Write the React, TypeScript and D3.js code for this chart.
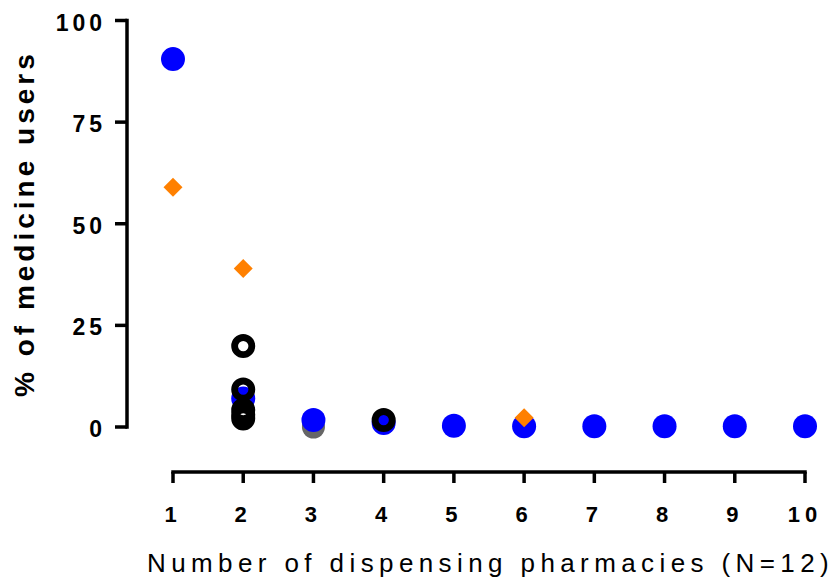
import React from "react";
import * as d3 from "d3";

const xTicks = [1, 2, 3, 4, 5, 6, 7, 8, 9, 10];
const yTicks = [0, 25, 50, 75, 100];

const greyX = [3];
const greyY = [0];

const blueX = [1, 2, 3, 4, 5, 6, 7, 8, 9, 10];
const blueY = [90.5, 7, 1.7, 1.0, 0.3, 0.2, 0.2, 0.2, 0.2, 0.2];

const ringX = [2, 2, 2, 2, 2, 4];
const ringY = [19.9, 9.2, 4.2, 3.0, 2.1, 1.7];

const diamondX = [1, 2, 6];
const diamondY = [59, 39, 2.3];

const yTitle = "% of medicine users";
const xTitle = "Number of dispensing pharmacies (N=12)";

const FONT = "Liberation Sans, Arial, sans-serif";

export default function App() {
  const W = 833, H = 581;
  const x = d3.scaleLinear().domain([1, 10]).range([173, 805]);
  const y = d3.scaleLinear().domain([0, 100]).range([427, 20.5]);
  const axisX = 127;
  const axisY = 472;
  const diamond = d3.symbol().type(d3.symbolSquare).size(180)();

  return (
    <svg width={W} height={H} style={{ position: "absolute", left: 0, top: 0 }}>
      <rect width={W} height={H} fill="#fff" />
      {/* Y axis */}
      <line x1={axisX} x2={axisX} y1={y(100) - 1.75} y2={y(0) + 1.75} stroke="#000" strokeWidth={3.5} />
      {yTicks.map((t) => (
        <g key={"yt" + t}>
          <line x1={axisX - 12} x2={axisX} y1={y(t)} y2={y(t)} stroke="#000" strokeWidth={3.5} />
          <text x={106} y={y(t) + 10} textAnchor="end" fontFamily={FONT}
            fontWeight="bold" fontSize={23} letterSpacing={4}>{t}</text>
        </g>
      ))}
      {/* X axis */}
      <line x1={x(1) - 1.75} x2={x(10) + 1.75} y1={axisY} y2={axisY} stroke="#000" strokeWidth={3.5} />
      {xTicks.map((t) => (
        <g key={"xt" + t}>
          <line x1={x(t)} x2={x(t)} y1={axisY} y2={axisY + 11} stroke="#000" strokeWidth={3.5} />
          <text x={x(t)} y={522} textAnchor="middle" fontFamily={FONT}
            fontWeight="bold" fontSize={22} letterSpacing={5}>{t}</text>
        </g>
      ))}
      {/* titles */}
      <text transform={`translate(34,397) rotate(-90)`} textAnchor="start"
        fontFamily={FONT} fontWeight="bold" fontSize={28} letterSpacing={4.0}>{yTitle}</text>
      <text x={147} y={572} textAnchor="start" fontFamily={FONT}
        fontSize={26} letterSpacing={5.4}>{xTitle}</text>
      {/* grey */}
      {greyX.map((v, i) => (
        <circle key={"g" + i} cx={x(v)} cy={y(greyY[i])} r={11.5} fill="#666" />
      ))}
      {/* blue */}
      {blueX.map((v, i) => (
        <circle key={"b" + i} cx={x(v)} cy={y(blueY[i])} r={12} fill="#0000ff" />
      ))}
      {/* rings */}
      {ringX.map((v, i) => (
        <circle key={"r" + i} cx={x(v)} cy={y(ringY[i])} r={8.6} fill="none" stroke="#000" strokeWidth={6.8} />
      ))}
      {/* diamonds */}
      {diamondX.map((v, i) => (
        <path key={"d" + i} d={diamond} transform={`translate(${x(v)},${y(diamondY[i])}) rotate(45)`} fill="#ff8000" />
      ))}
    </svg>
  );
}
